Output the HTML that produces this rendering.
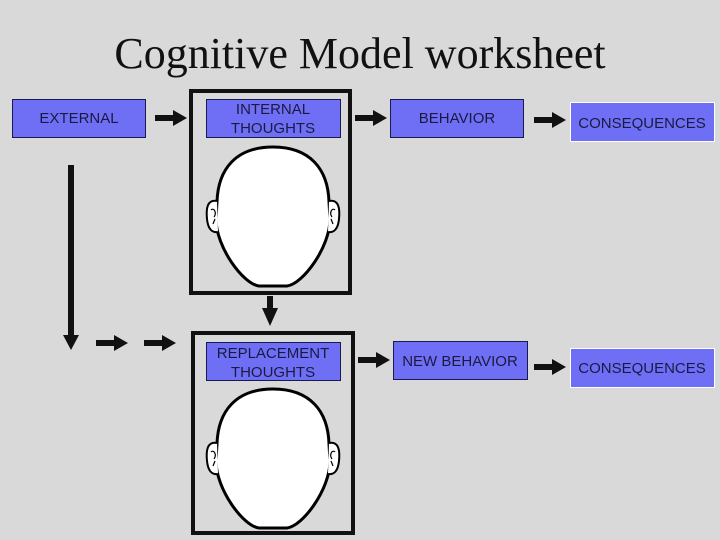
<!DOCTYPE html>
<html><head><style>
html,body{margin:0;padding:0;background:#d9d9d9;}
body{width:720px;height:540px;overflow:hidden;position:relative;}
</style></head><body>
<svg width="720" height="540" xmlns="http://www.w3.org/2000/svg" style="position:absolute;left:0;top:0">
<defs>
<g id="head">
<path d="M273,0 C310,0 328,22 329,55 L330,72 C330,100 303,137 287,139 L259,139 C243,137 216,100 216,72 L217,55 C218,22 236,0 273,0 Z" fill="#fff" stroke="#000" stroke-width="3"/>
<path d="M217,54 C207,52 206,62 207,72 C208,82 212,86 218,85" fill="#fff" stroke="#000" stroke-width="2"/>
<path d="M329,54 C339,52 340,62 339,72 C338,82 334,86 328,85" fill="#fff" stroke="#000" stroke-width="2"/>
<path d="M211,63 C214,60 217,66 214,70 M215,72 L213,77" fill="none" stroke="#000" stroke-width="1.2"/>
<path d="M335,63 C332,60 329,66 332,70 M331,72 L333,77" fill="none" stroke="#000" stroke-width="1.2"/>
</g>
<g id="arr"><rect x="0" y="-3" width="20" height="6" fill="#111"/><polygon points="18,-8 32,0 18,8" fill="#111"/></g>
</defs>
<text x="360" y="68" text-anchor="middle" font-family="Liberation Serif, serif" font-size="44" fill="#111">Cognitive Model worksheet</text>

<g font-family="Liberation Sans, sans-serif" font-size="15" fill="#1a1a40" text-anchor="middle">
<rect x="12.5" y="99.5" width="133" height="38" fill="#6f6ff6" stroke="#1a1a50"/>
<text x="79" y="123">EXTERNAL</text>
<rect x="191" y="91" width="159" height="202" fill="none" stroke="#111" stroke-width="4"/>
<rect x="206.5" y="99.5" width="134" height="38" fill="#6f6ff6" stroke="#1a1a50"/>
<text x="273" y="114">INTERNAL</text><text x="273" y="133">THOUGHTS</text>
<rect x="390.5" y="99.5" width="133" height="38" fill="#6f6ff6" stroke="#1a1a50"/>
<text x="457" y="123">BEHAVIOR</text>
<rect x="570.5" y="102.5" width="144" height="39" fill="#6f6ff6" stroke="#fff"/>
<text x="642" y="128">CONSEQUENCES</text>

<rect x="193" y="333" width="160" height="200" fill="none" stroke="#111" stroke-width="4"/>
<rect x="206.5" y="342.5" width="134" height="38" fill="#6f6ff6" stroke="#1a1a50"/>
<text x="273" y="358">REPLACEMENT</text><text x="273" y="377">THOUGHTS</text>
<rect x="393.5" y="341.5" width="134" height="38" fill="#6f6ff6" stroke="#1a1a50"/>
<text x="460" y="366">NEW BEHAVIOR</text>
<rect x="570.5" y="348.5" width="144" height="39" fill="#6f6ff6" stroke="#fff"/>
<text x="642" y="373">CONSEQUENCES</text>
</g>

<use href="#head" transform="translate(0,147)"/>
<use href="#head" transform="translate(0,389)"/>

<use href="#arr" transform="translate(155,118)"/>
<use href="#arr" transform="translate(355,118)"/>
<use href="#arr" transform="translate(534,120)"/>
<use href="#arr" transform="translate(358,360)"/>
<use href="#arr" transform="translate(534,367)"/>
<use href="#arr" transform="translate(96,343)"/>
<use href="#arr" transform="translate(144,343)"/>
<rect x="68" y="165" width="6" height="172" fill="#111"/>
<polygon points="63,335 79,335 71,350" fill="#111"/>
<rect x="267" y="296" width="6" height="14" fill="#111"/>
<polygon points="262,308 278,308 270,326" fill="#111"/>
</svg>
</body></html>
